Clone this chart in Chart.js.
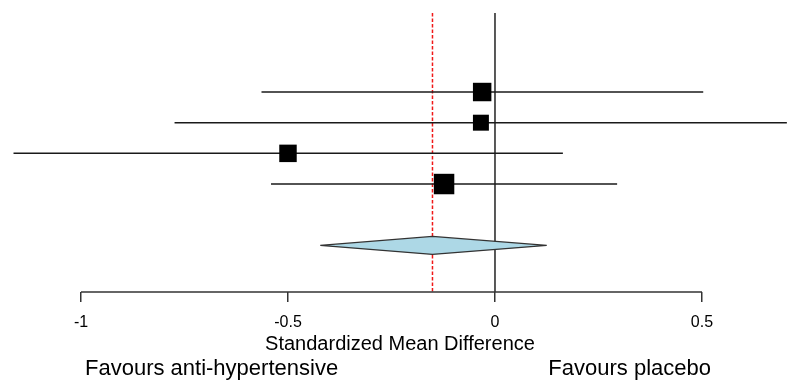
<!DOCTYPE html>
<html>
<head>
<meta charset="utf-8">
<script src="https://cdn.jsdelivr.net/npm/chart.js@4/dist/chart.umd.min.js"></script>
<style>
  html, body { margin: 0; padding: 0; background: #fff; }
  canvas { display: block; }
</style>
</head>
<body>
<canvas id="c" width="791" height="381"></canvas>
<script>
// ---- data ----
const studies   = ["Study 1", "Study 2", "Study 3", "Study 4"];
const estimates = [-0.031, -0.034, -0.500, -0.123];
const ciLower   = [-0.564, -0.774, -1.163, -0.541];
const ciUpper   = [ 0.503,  0.705,  0.164,  0.295];
const weights   = [25.8, 19.3, 23.1, 31.7];   // relative weights (%), square area
const rowIndex  = [1, 2, 3, 4];

const summary   = [-0.422, -0.151, 0.125];    // lower, estimate, upper
const summaryRow = 6;
const nullValue = 0;

const tickValues = [-1, -0.5, 0, 0.5];
const tickLabels = ["-1", "-0.5", "0", "0.5"];
const axisTitle  = "Standardized Mean Difference";
const favourLeft  = "Favours anti-hypertensive";
const favourRight = "Favours placebo";

// ---- datasets ----
const FONT = "'Liberation Sans', Arial, sans-serif";
const datasets = [];
studies.forEach((s, i) => {
  datasets.push({
    type: 'line',
    label: s + ' CI',
    data: [{x: ciLower[i], y: rowIndex[i]}, {x: ciUpper[i], y: rowIndex[i]}],
    borderColor: '#1a1a1a',
    borderWidth: 1.5,
    pointRadius: 0,
    fill: false,
    order: 2
  });
});
datasets.push({
  type: 'scatter',
  label: 'Estimates',
  data: estimates.map((e, i) => ({x: e, y: rowIndex[i]})),
  pointStyle: 'rect',
  pointRadius: weights.map(w => 2.57 * Math.sqrt(w)),
  pointHoverRadius: weights.map(w => 2.57 * Math.sqrt(w)),
  backgroundColor: '#000',
  borderColor: '#000',
  borderWidth: 0,
  order: 1
});

const forestPlugin = {
  id: 'forest',
  beforeDatasetsDraw(chart) {
    const {ctx, chartArea, scales: {x, y}} = chart;
    const top = 13;
    const bottom = chartArea.bottom;
    ctx.save();
    // null line
    ctx.strokeStyle = '#222';
    ctx.lineWidth = 1.5;
    ctx.beginPath();
    const x0 = x.getPixelForValue(nullValue);
    ctx.moveTo(x0, top); ctx.lineTo(x0, bottom);
    ctx.stroke();
    // summary dashed line
    ctx.strokeStyle = '#f01818';
    ctx.lineWidth = 1.5;
    ctx.setLineDash([3.5, 2]);
    ctx.beginPath();
    const xs = x.getPixelForValue(summary[1]);
    ctx.moveTo(xs, top); ctx.lineTo(xs, bottom);
    ctx.stroke();
    ctx.setLineDash([]);
    // axis line from first to last tick
    ctx.strokeStyle = '#333';
    ctx.lineWidth = 1.5;
    ctx.beginPath();
    ctx.moveTo(x.getPixelForValue(tickValues[0]), bottom);
    ctx.lineTo(x.getPixelForValue(tickValues[tickValues.length - 1]), bottom);
    ctx.stroke();
    ctx.restore();
  },
  afterDatasetsDraw(chart) {
    const {ctx, scales: {x, y}} = chart;
    ctx.save();
    // summary diamond
    const yc = y.getPixelForValue(summaryRow);
    const h = 9;
    ctx.beginPath();
    ctx.moveTo(x.getPixelForValue(summary[0]), yc);
    ctx.lineTo(x.getPixelForValue(summary[1]), yc - h);
    ctx.lineTo(x.getPixelForValue(summary[2]), yc);
    ctx.lineTo(x.getPixelForValue(summary[1]), yc + h);
    ctx.closePath();
    ctx.fillStyle = '#add8e6';
    ctx.fill();
    ctx.strokeStyle = '#333';
    ctx.lineWidth = 1.2;
    ctx.stroke();
    ctx.restore();
  },
  afterDraw(chart) {
    const {ctx, scales: {x}} = chart;
    ctx.save();
    ctx.fillStyle = '#000';
    ctx.font = "22px " + FONT;
    ctx.textBaseline = 'middle';
    ctx.textAlign = 'left';
    ctx.fillText(favourLeft, x.getPixelForValue(tickValues[0]) + 4, 369);
    ctx.textAlign = 'right';
    ctx.fillText(favourRight, x.getPixelForValue(tickValues[tickValues.length - 1]) + 9, 369);
    ctx.restore();
  }
};

new Chart(document.getElementById('c'), {
  data: { datasets },
  options: {
    responsive: false,
    animation: false,
    events: [],
    layout: { autoPadding: false, padding: { left: 9, right: 0, top: 0, bottom: 0 } },
    plugins: { legend: { display: false }, tooltip: { enabled: false } },
    scales: {
      x: {
        type: 'linear',
        position: 'bottom',
        min: -1.1739,
        max: 0.715,
        afterBuildTicks(scale) { scale.ticks = tickValues.map(v => ({value: v})); },
        afterFit(scale) { scale.height = 89; },
        grid: { display: true, drawOnChartArea: false, drawTicks: true, tickLength: 10, color: '#333', lineWidth: 1.5 },
        border: { display: false },
        ticks: {
          autoSkip: false,
          maxRotation: 0,
          padding: 11,
          color: '#000',
          font: { size: 16, family: FONT },
          callback: (v) => { const i = tickValues.indexOf(v); return i >= 0 ? tickLabels[i] : ''; }
        },
        title: {
          display: true,
          text: axisTitle,
          color: '#000',
          font: { size: 20, family: FONT },
          padding: { top: 0, bottom: 25 }
        }
      },
      y: {
        type: 'linear',
        display: false,
        reverse: true,
        min: -2,
        max: 7.52
      }
    }
  },
  plugins: [forestPlugin]
});
</script>
</body>
</html>
